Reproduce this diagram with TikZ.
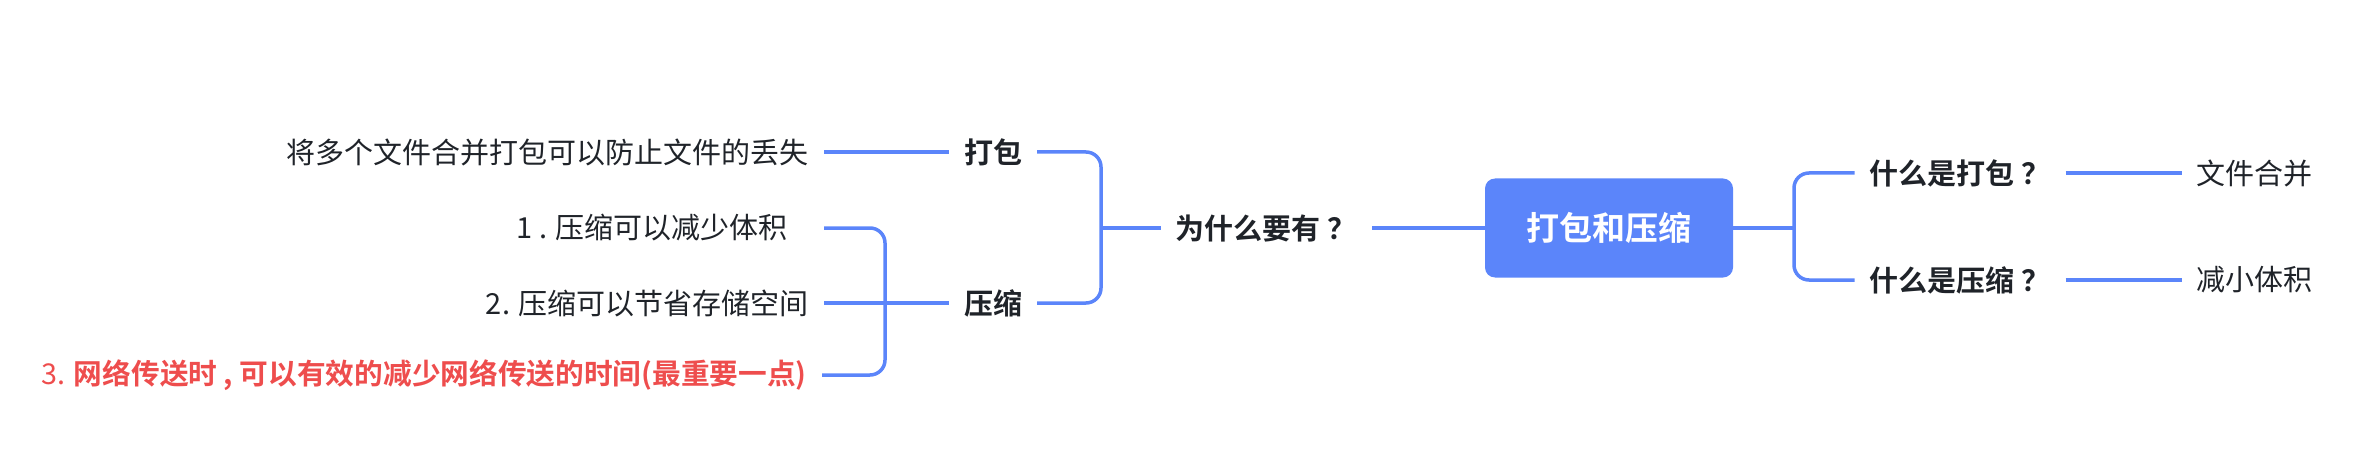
\documentclass[tikz,border=0pt]{standalone}
\usepackage{fontspec}
\setmainfont{Noto Sans CJK SC}[BoldFont={Noto Sans CJK SC Bold}]
\usepackage{xcolor}
\usepackage{tikz}
\usetikzlibrary{positioning}
\definecolor{mapblue}{HTML}{5B85FA}
\definecolor{mapred}{HTML}{EE4D4D}
\definecolor{mapink}{HTML}{1F2329}

\begin{document}
\begin{tikzpicture}[x=1pt, y=-1pt,
  every node/.style={font=\fontsize{29}{34}\selectfont, text=mapink, inner xsep=15pt, inner ysep=4pt},
  topic/.style={font=\fontsize{29}{34}\selectfont\bfseries},
  rootbox/.style={fill=mapblue, rounded corners=10pt, minimum width=248pt, minimum height=99pt,
    font=\fontsize{33}{38}\selectfont\bfseries, text=white},
  branch/.style={draw=mapblue, line width=3.5pt},
  fork/.style={branch, rounded corners=15pt}]
  \useasboundingbox (0,0) rectangle (2354,468);

  % ---- root ----
  \node[rootbox] (root) at (1609,228) {打包和压缩};

  % ---- right side ----
  \node[topic] (whatpack) at (1960,173) {什么是打包 ？};
  \node[topic] (whatcomp) at (1960,280) {什么是压缩 ？};
  \node[right=116pt of whatpack] (merge) {文件合并};
  \node[right=116pt of whatcomp] (shrink) {减小体积};
  \coordinate (jr) at (1794,228);
  \draw[branch] (root.east) -- (jr);
  \draw[fork] (whatpack.west) -| (jr) |- (whatcomp.west);
  \draw[branch] (whatpack.east) -- (merge.west);
  \draw[branch] (whatcomp.east) -- (shrink.west);

  % ---- left side ----
  \node[topic] (why) at (1266,228) {为什么要有 ？};
  \node[topic] (pack) at (993,152) {打包};
  \node[topic] (comp) at (993,303) {压缩};
  \coordinate (jl) at (1101,228);
  \draw[branch] (root.west) -- (why.east);
  \draw[branch] (why.west) -- (jl);
  \draw[fork] (pack.east) -| (jl) |- (comp.east);

  % leaves of 打包 / 压缩
  \node[anchor=east] (keep) at (824,152) {将多个文件合并打包可以防止文件的丢失};
  \node[anchor=east] (item1) at (803,228) {1 . 压缩可以减少体积};
  \node[anchor=east] (item2) at (824,303) {2. 压缩可以节省存储空间};
  \node[anchor=east, text=mapred, font=\fontsize{28.7}{34}\selectfont] (item3) at (822,375) {3. \textbf{网络传送时 , 可以有效的减少网络传送的时间(最重要一点)}};
  \coordinate (jc) at (885,303);
  \draw[branch] (pack.west) -- (keep.east);
  \draw[branch] (comp.west) -- (item2.east);
  \draw[fork] ([xshift=21pt]item1.east) -| (jc) |- (item3.east);
\end{tikzpicture}
\end{document}
